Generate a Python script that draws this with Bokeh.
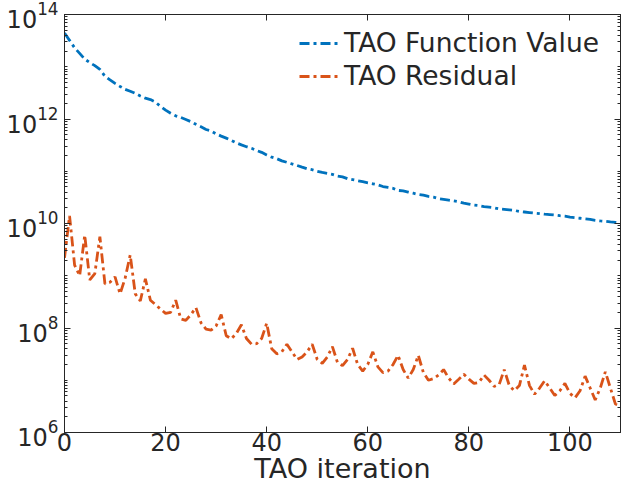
from bokeh.plotting import figure
from bokeh.models import (LogAxis, LinearAxis, FixedTicker, Legend, LegendItem,
                          ColumnDataSource, CustomJSTickFormatter)
from bokeh.embed import file_html
from bokeh.resources import INLINE

# TAO objective value per iteration
iterations = list(range(0, 111))
function_value = [
    4.4e13, 3.2e13, 2.3e13, 1.8e13, 1.4e13, 1.2e13, 1.05e13, 8.9e12, 6.6e12, 5.6e12,
    4.8e12, 4.2e12, 3.7e12, 3.4e12, 3.1e12, 2.75e12, 2.5e12, 2.35e12, 2.1e12, 1.74e12,
    1.48e12, 1.29e12, 1.15e12, 1.07e12, 9.8e11, 8.9e11, 7.9e11, 7.1e11, 6.3e11, 5.9e11,
    5.2e11, 4.7e11, 4.3e11, 3.9e11, 3.5e11, 3.2e11, 2.95e11, 2.75e11, 2.5e11, 2.3e11,
    2.05e11, 1.86e11, 1.74e11, 1.58e11, 1.48e11, 1.38e11, 1.29e11, 1.2e11, 1.12e11, 1.07e11,
    1.0e11, 9.5e10, 9.1e10, 8.7e10, 8.1e10, 7.8e10, 7.2e10, 6.9e10, 6.6e10, 6.3e10,
    6.0e10, 5.75e10, 5.5e10, 5.1e10, 4.9e10, 4.7e10, 4.3e10, 4.2e10, 4.0e10, 3.8e10,
    3.6e10, 3.5e10, 3.3e10, 3.2e10, 3.0e10, 2.9e10, 2.8e10, 2.7e10, 2.6e10, 2.45e10,
    2.35e10, 2.25e10, 2.2e10, 2.1e10, 2.05e10, 2.0e10, 1.9e10, 1.86e10, 1.82e10, 1.78e10,
    1.7e10, 1.66e10, 1.62e10, 1.58e10, 1.55e10, 1.51e10, 1.48e10, 1.45e10, 1.41e10, 1.38e10,
    1.32e10, 1.29e10, 1.26e10, 1.23e10, 1.2e10, 1.15e10, 1.12e10, 1.1e10, 1.07e10, 1.05e10,
    1.0e10,
]

# TAO residual norm per iteration
residual = [
    2.2e9, 1.4e10, 1.6e9, 1.0e9, 6.0e9, 8.3e8, 1.1e9, 5.6e9, 7.0e8, 7.5e8,
    9.5e8, 4.5e8, 9.0e8, 2.5e9, 4.5e8, 3.3e8, 8.7e8, 3.4e8, 2.8e8, 2.3e8,
    1.9e8, 2.0e8, 3.4e8, 1.5e8, 1.4e8, 1.8e8, 2.45e8, 1.26e8, 9.5e7, 9.1e7,
    1.1e8, 1.8e8, 7.1e7, 6.2e7, 7.9e7, 1.15e8, 6.3e7, 4.9e7, 5.0e7, 6.3e7,
    1.23e8, 4.0e7, 3.2e7, 3.5e7, 4.9e7, 3.5e7, 2.5e7, 2.8e7, 3.5e7, 4.9e7,
    2.5e7, 2.1e7, 2.8e7, 4.4e7, 2.2e7, 1.9e7, 2.5e7, 4.1e7, 2.0e7, 1.5e7,
    2.0e7, 3.5e7, 1.8e7, 1.4e7, 1.5e7, 2.0e7, 3.0e7, 1.6e7, 1.1e7, 1.6e7,
    3.0e7, 1.4e7, 1.0e7, 1.07e7, 1.26e7, 1.6e7, 1.1e7, 8.5e6, 1.05e7, 1.3e7,
    1.05e7, 8.7e6, 9.1e6, 1.26e7, 1.0e7, 7.6e6, 8.3e6, 1.6e7, 7.9e6, 6.3e6,
    7.9e6, 1.95e7, 7.9e6, 5.4e6, 7.1e6, 9.8e6, 7.1e6, 5.1e6, 6.3e6, 8.7e6,
    5.6e6, 4.6e6, 6.3e6, 1.2e7, 7.1e6, 4.2e6, 7.1e6, 1.45e7, 7.1e6, 3.5e6,
    3.2e6,
]

x_ticks = [0, 20, 40, 60, 80, 100]
y_ticks = [1e6, 1e8, 1e10, 1e12, 1e14]
y_minor = [k * 10.0 ** n for n in range(6, 14) for k in range(1, 10) if k * 10.0 ** n not in y_ticks]

INK = "#262626"
FONT = "DejaVu Sans"

p = figure(width=629, height=486, y_axis_type="log",
           x_range=(0, 110), y_range=(1e6, 1e14),
           output_backend="svg", toolbar_location=None,
           min_border_left=64, min_border_right=9,
           min_border_top=14, min_border_bottom=54)
p.background_fill_color = "white"
p.border_fill_color = "white"
p.outline_line_color = INK
p.outline_line_width = 1
p.grid.visible = False

src = ColumnDataSource(dict(x=iterations, f=function_value, r=residual))
dash = "10 4 3 4"
r_f = p.line("x", "f", source=src, line_color="#0072BD", line_width=2.8, line_dash=dash)
r_r = p.line("x", "r", source=src, line_color="#D95319", line_width=2.8, line_dash=dash)

blank = CustomJSTickFormatter(code="return ' ';")

def style(ax, labels=True):
    ax.axis_line_color = INK
    ax.major_tick_line_color = INK
    ax.minor_tick_line_color = INK
    ax.major_tick_in = 6
    ax.major_tick_out = 0
    ax.minor_tick_in = 3
    ax.minor_tick_out = 0
    ax.major_label_text_color = INK
    ax.major_label_text_font = FONT
    ax.major_label_text_font_size = "24px"
    if not labels:
        ax.formatter = blank
        ax.major_label_text_font_size = "4px"
        ax.major_label_standoff = 0

xa = p.xaxis[0]
xa.ticker = FixedTicker(ticks=x_ticks)
style(xa)
xa.major_label_standoff = 0
xa.axis_label = "TAO iteration"
xa.axis_label_text_font = FONT
xa.axis_label_text_font_size = "27px"
xa.axis_label_text_font_style = "normal"
xa.axis_label_text_color = INK
xa.axis_label_standoff = -1

ya = p.yaxis[0]
ya.ticker = FixedTicker(ticks=y_ticks, minor_ticks=y_minor)
style(ya)
ya.major_label_standoff = 6

top = LinearAxis(ticker=FixedTicker(ticks=x_ticks))
style(top, labels=False)
p.add_layout(top, "above")

right = LogAxis(ticker=FixedTicker(ticks=y_ticks, minor_ticks=y_minor))
style(right, labels=False)
p.add_layout(right, "right")

legend = Legend(items=[LegendItem(label="TAO Function Value", renderers=[r_f]),
                       LegendItem(label="TAO Residual", renderers=[r_r])],
                location=(235, 341))
legend.border_line_color = None
legend.background_fill_color = None
legend.label_text_font = FONT
legend.label_text_font_size = "26.5px"
legend.label_text_color = INK
legend.glyph_width = 40
legend.label_standoff = 5
legend.padding = 5
legend.margin = 0
legend.spacing = 2
p.add_layout(legend)

open("out.html", "w").write(file_html(p, INLINE))
